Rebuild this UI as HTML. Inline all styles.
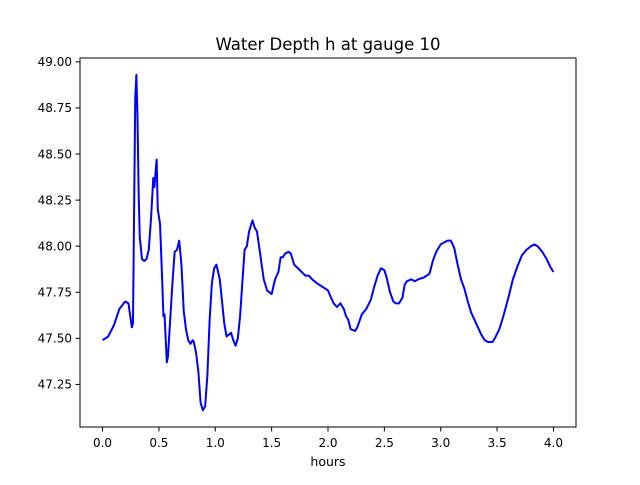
<!DOCTYPE html>
<html><head><meta charset="utf-8"><style>
body{margin:0;background:#fff}
text{font-family:"DejaVu Sans","Liberation Sans",sans-serif;fill:#000}
</style></head><body>
<svg id="chart" width="640" height="480" xmlns="http://www.w3.org/2000/svg">
<rect width="640" height="480" fill="#fff"/>
<text x="328" y="50" font-size="16.5" text-anchor="middle">Water Depth h at gauge 10</text>
<g id="axes"></g>
</svg>
<script>
const times=[0,0.05,0.1,0.15,0.2,0.23,0.26,0.27,0.28,0.29,0.3,0.31,0.32,0.33,0.35,0.37,0.39,0.41,0.43,0.45,0.46,0.47,0.48,0.49,0.51,0.53,0.54,0.55,0.57,0.58,0.6,0.62,0.64,0.66,0.68,0.7,0.72,0.74,0.76,0.78,0.8,0.81,0.83,0.85,0.87,0.89,0.91,0.93,0.95,0.97,0.99,1.01,1.04,1.06,1.08,1.1,1.12,1.14,1.16,1.18,1.2,1.22,1.24,1.26,1.28,1.3,1.33,1.35,1.37,1.4,1.43,1.46,1.5,1.53,1.56,1.58,1.6,1.62,1.65,1.67,1.7,1.75,1.8,1.83,1.86,1.9,1.95,2.0,2.02,2.05,2.08,2.11,2.14,2.16,2.18,2.2,2.24,2.26,2.3,2.34,2.38,2.41,2.44,2.47,2.5,2.52,2.55,2.58,2.6,2.63,2.66,2.68,2.7,2.74,2.77,2.8,2.85,2.9,2.93,2.96,3.0,3.03,3.06,3.09,3.12,3.15,3.18,3.21,3.24,3.27,3.3,3.33,3.36,3.39,3.42,3.44,3.46,3.48,3.52,3.56,3.6,3.64,3.68,3.72,3.76,3.8,3.83,3.86,3.9,3.94,3.97,4.0];
const depths=[47.49,47.51,47.57,47.66,47.7,47.69,47.56,47.58,48.2,48.8,48.93,48.7,48.3,48.05,47.93,47.92,47.93,47.98,48.15,48.37,48.32,48.4,48.47,48.2,48.12,47.8,47.62,47.63,47.37,47.4,47.6,47.8,47.97,47.98,48.03,47.9,47.65,47.55,47.49,47.47,47.49,47.48,47.42,47.32,47.15,47.11,47.13,47.3,47.6,47.8,47.88,47.9,47.82,47.7,47.58,47.51,47.52,47.53,47.49,47.46,47.5,47.62,47.8,47.98,48.0,48.08,48.14,48.1,48.08,47.95,47.82,47.76,47.74,47.82,47.86,47.94,47.94,47.96,47.97,47.96,47.9,47.87,47.84,47.84,47.82,47.8,47.78,47.76,47.73,47.69,47.67,47.69,47.66,47.62,47.6,47.55,47.54,47.56,47.63,47.66,47.71,47.78,47.84,47.88,47.87,47.83,47.75,47.7,47.69,47.69,47.72,47.79,47.81,47.82,47.81,47.82,47.83,47.85,47.92,47.97,48.01,48.02,48.03,48.03,47.99,47.9,47.82,47.77,47.7,47.64,47.6,47.56,47.52,47.49,47.48,47.48,47.48,47.5,47.55,47.63,47.72,47.82,47.89,47.95,47.98,48.0,48.01,48.0,47.97,47.93,47.89,47.86];
const xTicks=[0,0.5,1,1.5,2,2.5,3,3.5,4];
const xTickLabels=["0.0","0.5","1.0","1.5","2.0","2.5","3.0","3.5","4.0"];
const yTicks=[47.25,47.5,47.75,48,48.25,48.5,48.75,49];
const yTickLabels=["47.25","47.50","47.75","48.00","48.25","48.50","48.75","49.00"];
const L=80,R=576,T=58,B=427;
const xmin=-0.2,xmax=4.2;
const dmin=Math.min(...depths),dmax=Math.max(...depths),pad=(dmax-dmin)*0.05;
const ymin=dmin-pad,ymax=dmax+pad;
const X=v=>L+(v-xmin)/(xmax-xmin)*(R-L);
const Y=v=>B-(v-ymin)/(ymax-ymin)*(B-T);
const NS="http://www.w3.org/2000/svg",g=document.getElementById('axes');
function mk(tag,attrs){const e=document.createElementNS(NS,tag);for(const k in attrs)e.setAttribute(k,attrs[k]);g.appendChild(e);return e;}
const line=mk('polyline',{points:times.map((t,i)=>X(t).toFixed(2)+','+Y(depths[i]).toFixed(2)).join(' '),fill:'none',stroke:'#0000ff','stroke-width':2,'stroke-linejoin':'round'});


const frame=mk('rect',{x:L,y:T,width:R-L,height:B-T,fill:'none',stroke:'#000','stroke-width':1});


xTicks.forEach((v,i)=>{const x=X(v);
 const tk=mk('line',{x1:x,x2:x,y1:B,y2:B+4.5,stroke:'#000','stroke-width':1});
 
 
 const t=mk('text',{x:x,y:B+20,'font-size':12,'text-anchor':'middle'});t.textContent=xTickLabels[i];
 
 
});
yTicks.forEach((v,i)=>{const y=Y(v);
 const tk=mk('line',{x1:L-4.5,x2:L,y1:y,y2:y,stroke:'#000','stroke-width':1});
 
 
 const t=mk('text',{x:L-8,y:y+4.3,'font-size':12,'text-anchor':'end'});t.textContent=yTickLabels[i];
 
 
});
const xl=mk('text',{x:(L+R)/2,y:B+39,'font-size':12.5,'text-anchor':'middle'});xl.textContent='hours';


</script>
</body></html>
